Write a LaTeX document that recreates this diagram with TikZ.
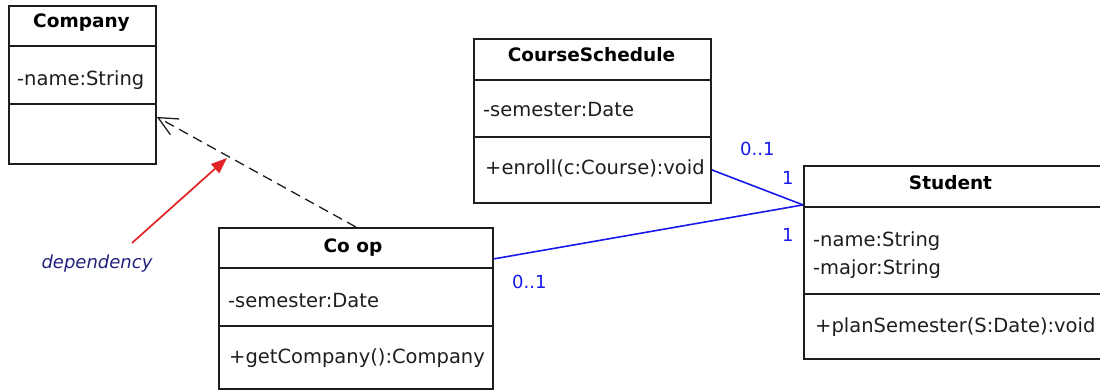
\documentclass[tikz,border=0pt]{standalone}
\usepackage{fontspec}
\setmainfont{DejaVu Sans}
\usetikzlibrary{arrows.meta}
\definecolor{umlline}{RGB}{30,30,30}
\definecolor{assoc}{RGB}{25,25,235}
\definecolor{note}{RGB}{35,35,125}
\definecolor{pointer}{RGB}{225,35,40}

\begin{document}
\begin{tikzpicture}[x=1pt,y=-1pt,
  classbox/.style={draw=umlline, line width=1.8pt, anchor=north west, inner sep=0pt},
  classtitle/.style={font=\fontsize{18.5}{20}\selectfont\bfseries, text=black, anchor=base},
  member/.style={font=\fontsize{19.5}{22}\selectfont, text=umlline, anchor=base west, inner sep=0pt},
  mult/.style={font=\fontsize{18}{20}\selectfont, text=assoc, anchor=base west, inner sep=0pt},
  compart/.style={draw=umlline, line width=1.8pt},
  assocline/.style={draw=assoc, line width=1.6pt},
  depline/.style={draw=umlline, line width=1.3pt, dash pattern=on 10pt off 6pt,
    -{Straight Barb[length=19pt,width=18pt,line width=1.3pt]}},
  pointerline/.style={draw=pointer, line width=1.7pt, -{Triangle[length=16pt,width=12pt]}},
]
\useasboundingbox (0,0) rectangle (1100,390);
\fill[white] (0,0) rectangle (1100,390);

% Company
\node[classbox, minimum width=147pt, minimum height=158pt] (company) at (8,5) {};
\draw[compart] (8,46) -- (155,46);
\draw[compart] (8,104) -- (155,104);
\node[classtitle] (companyT) at (81.5,28) {Company};
\node[member] (companyA) at (17,86) {-name:String};

% CourseSchedule
\node[classbox, minimum width=237pt, minimum height=164pt] (cs) at (473,38) {};
\draw[compart] (473,80) -- (710,80);
\draw[compart] (473,137) -- (710,137);
\node[classtitle] (csT) at (591.5,62) {CourseSchedule};
\node[member] (csA) at (483,117) {-semester:Date};
\node[member] (csM) at (485,175) {+enroll(c:Course):void};

% Student
\node[classbox, minimum width=302pt, minimum height=193pt] (student) at (803,165) {};
\draw[compart] (803,207) -- (1105,207);
\draw[compart] (803,294) -- (1105,294);
\node[classtitle] (studentT) at (950.5,190) {Student};
\node[member] (studentA) at (813,246) {-name:String};
\node[member] (studentB) at (813,274) {-major:String};
\node[member] (studentM) at (815,332) {+planSemester(S:Date):void};

% Co op
\node[classbox, minimum width=274pt, minimum height=161pt] (coop) at (218,227) {};
\draw[compart] (218,268) -- (492,268);
\draw[compart] (218,326) -- (492,326);
\node[classtitle] (coopT) at (353,252) {Co op};
\node[member] (coopA) at (228,307) {-semester:Date};
\node[member] (coopM) at (229,363) {+getCompany():Company};

% dependency Co op -> Company
\draw[depline] (coop.north) -- ([yshift=-32pt]company.east);

% associations with Student
\coordinate (stuport) at ([yshift=57.5pt]student.west);
\draw[assocline] ([yshift=-49pt]cs.east) -- (stuport);
\draw[assocline] ([yshift=49.5pt]coop.east) -- (stuport);
\node[mult] (m1) at (740,156) {0..1};
\node[mult] (m2) at (782,185) {1};
\node[mult] (m3) at (782,241) {1};
\node[mult] (m4) at (512,288) {0..1};

% annotation
\node[font=\fontsize{18}{20}\selectfont\itshape, text=note, anchor=base] (dep) at (97,268) {dependency};
\coordinate (deptail) at (132,243);
\coordinate (deptip) at (227,158);
\draw[pointerline] (deptail) -- (deptip);
\end{tikzpicture}
\end{document}
